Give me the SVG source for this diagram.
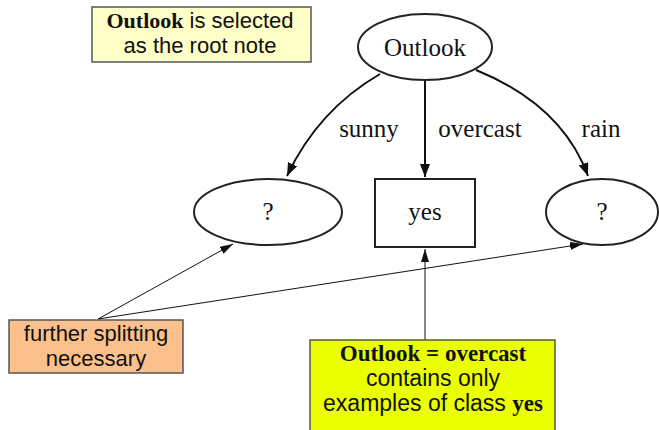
<svg xmlns="http://www.w3.org/2000/svg" width="659" height="430" viewBox="0 0 659 430">
<style>
.node{fill:#fff;stroke:#222;stroke-width:2}
.note{stroke:#555;stroke-width:1.5}
.tt{font-family:"Liberation Serif","Times New Roman",serif;font-size:25px;fill:#111;text-anchor:middle}
.ta{font-family:"Liberation Sans",Arial,sans-serif;fill:#111;text-anchor:middle}
.b{font-family:"Liberation Serif","Times New Roman",serif;font-weight:bold}
.edge{fill:none;stroke:#111;stroke-width:2}
.thin{fill:none;stroke:#111;stroke-width:1}
</style>
<defs>
<marker id="ah" markerUnits="userSpaceOnUse" markerWidth="14" markerHeight="12" refX="13" refY="5" orient="auto"><path d="M0,0 L13,5 L0,10 Z" fill="#111"/></marker>
<marker id="ah2" markerUnits="userSpaceOnUse" markerWidth="14" markerHeight="10" refX="13" refY="4" orient="auto"><path d="M0,0 L13,4 L0,8 Z" fill="#111"/></marker>
</defs>
<rect width="659" height="430" fill="#fff"/>
<g id="note-root">
<rect class="note" x="92" y="7" width="219" height="55" fill="#ffffc8"/>
<text class="ta" x="200" y="28" font-size="22"><tspan class="b">Outlook</tspan> is selected</text>
<text class="ta" x="200" y="53" font-size="22">as the root note</text>
</g>
<g id="connectors">
<path class="edge" d="M380,74 Q318,110 287,176" marker-end="url(#ah)"/>
<path class="edge" d="M425,81 L425,177" marker-end="url(#ah)"/>
<path class="edge" d="M476,70 Q562,105 588,176" marker-end="url(#ah)"/>
<path class="thin" d="M98,319 L233,244" marker-end="url(#ah2)"/>
<path class="thin" d="M98,319 L583,244" marker-end="url(#ah2)"/>
<path class="thin" d="M425,340 L425,249" marker-end="url(#ah2)"/>
<text class="tt" x="369" y="137" font-size="22">sunny</text>
<text class="tt" x="480" y="137" font-size="22">overcast</text>
<text class="tt" x="601" y="137" font-size="22">rain</text>
</g>
<g id="outlook">
<ellipse class="node" cx="425" cy="47" rx="67" ry="33"/>
<text class="tt" x="425" y="56">Outlook</text>
</g>
<g id="sunny-node">
<ellipse class="node" cx="268" cy="212" rx="74" ry="33"/>
<text class="tt" x="268" y="220">?</text>
</g>
<g id="yes-node">
<rect class="node" x="375" y="179" width="100" height="68"/>
<text class="tt" x="425" y="220">yes</text>
</g>
<g id="rain-node">
<ellipse class="node" cx="602" cy="212" rx="56" ry="33"/>
<text class="tt" x="602" y="220">?</text>
</g>
<g id="note-split">
<rect class="note" x="9" y="320" width="174" height="53" fill="#fcc08c"/>
<text class="ta" x="96" y="341" font-size="22">further splitting</text>
<text class="ta" x="96" y="366" font-size="22">necessary</text>
</g>
<g id="note-overcast">
<rect class="note" x="310" y="340" width="245" height="95" fill="#eaff00"/>
<text class="ta b" x="433" y="361" font-size="23">Outlook = overcast</text>
<text class="ta" x="433" y="386" font-size="23">contains only</text>
<text class="ta" x="433" y="411" font-size="23">examples of class <tspan class="b">yes</tspan></text>
</g>
</svg>
